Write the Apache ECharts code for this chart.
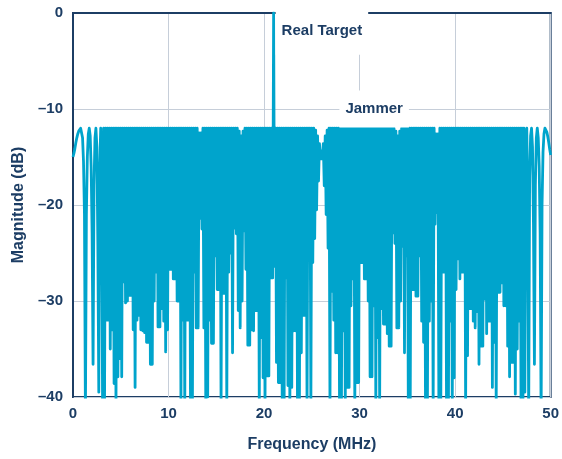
<!DOCTYPE html>
<html>
<head>
<meta charset="utf-8">
<script src="https://cdn.jsdelivr.net/npm/echarts@6/dist/echarts.min.js"></script>
<style>
  html, body { margin: 0; padding: 0; background: #ffffff; }
  #chart { width: 562px; height: 459px; }
</style>
</head>
<body>
<div id="chart"></div>
<script>
// ---- data ----
const xTicks = [0, 10, 20, 30, 40, 50];           // MHz
const yTicks = [0, -10, -20, -30, -40];           // dB
const sampleStepMHz = 0.1;                        // spectrum sample grid

// left band edge, 0.0 .. 3.2 MHz
const leftEdgeDb = [-15, -14.6, -14.1, -13.5, -13, -12.6, -12.3, -12.1, -12, -12.2,
  -13, -15.5, -21, -42, -21, -15, -12.6, -12, -12.8, -16,
  -23, -36.6, -18, -13, -12, -14, -24, -39.5, -16, -12,
  -18, -42, -12];

// dense band: troughs at 3.3, 3.5 ... 47.1 MHz
const troughDb = [
  -41, -32, -32, -35,                       // 3.3-3.9
  -33, -38.6, -41, -37.9, -36,              // 4
  -37.9, -28, -30.2, -30, -29.4,            // 5
  -29.4, -33, -39, -32, -31.5,              // 6
  -33, -33.1, -33.3, -34.3, -34.3,          // 7
  -36.6, -36.6, -30, -27, -32.7,            // 8
  -32.7, -30.8, -32.1, -35.3, -33,          // 9
  -26.7, -26.7, -27.7, -27.7, -30,          // 10
  -30, -41, -32, -41, -32,                  // 11
  -32, -41, -41, -27, -32.8,                // 12
  -32.8, -21.4, -22.5, -32.8, -41,          // 13
  -40, -32, -34.4, -34.4, -25.3,            // 14
  -28.8, -28.8, -41, -29.2, -29.2,          // 15
  -41, -27, -25, -35.4, -22.4,              // 16
  -23, -31, -32.8, -30, -22.7,              // 17
  -26.7, -34.6, -34.6, -33, -33.1,          // 18
  -31, -31, -41, -33.8, -38,                // 19
  -41, -37.8, -37.8, -27.6, -27.6,          // 20
  -26.4, -36.4, -38.5, -38.5, -41,          // 21
  -41, -27.6, -38.8, -41, -39,              // 22
  -33.1, -33.1, -41, -41, -35.4,            // 23
  -31.5, -31.5, -41, -21.8, -41,            // 24
  -26, -23.5, -20.5, -17.5, -15.2,          // 25
  -15.2, -18, -21, -24.5, -41,              // 26
  -29, -32, -35.4, -35.4, -41,              // 27
  -41, -33.1, -41, -39, -39,                // 28
  -30.5, -27.7, -41, -38.5, -38.5,          // 29
  -26, -26, -27.7, -27.7, -30,              // 30
  -37.9, -37.9, -30.5, -41, -33.8,          // 31
  -41, -30.8, -32.4, -32.4, -33.4,          // 32
  -34.7, -34.7, -22.9, -24, -32.8,          // 33
  -32.8, -30, -24.3, -35.4, -25.3,          // 34
  -41, -41, -28.8, -28.8, -29.5,            // 35
  -29.5, -25.3, -32.1, -34.3, -41,          // 36
  -41, -32.1, -30, -41, -22,                // 37
  -20.8, -41, -41, -27, -27,                // 38
  -41, -41, -32.1, -41, -38,                // 39
  -28.8, -25.6, -27.7, -27, -27,            // 40
  -41, -35.7, -30.8, -30.8, -32.1,          // 41
  -32.8, -31.1, -36.6, -34.7, -34.7,        // 42
  -29.8, -33.4, -32.1, -32.1, -39,          // 43
  -34.3, -41, -29.1, -29.1, -28.1,          // 44
  -30.5, -30.5, -34.7, -37.9, -36.4,        // 45
  -36.4, -39.7, -35, -32.1, -41,            // 46
  -41                                       // 47.1
];

// dense band: crests at 3.4, 3.6 ... 47.0 MHz (21.0 MHz = real target)
const crestDb = [
  -12, -12, -12,                            // 3.4-3.8
  -12, -12, -12, -12, -12,                  // 4
  -12, -12, -12, -12, -12,                  // 5
  -12, -12, -12, -12, -12,                  // 6
  -12, -12, -12, -12, -12,                  // 7
  -12, -12, -12, -12, -12,                  // 8
  -12, -12, -12, -12, -12,                  // 9
  -12, -12, -12, -12, -12,                  // 10
  -12, -12, -12, -12, -12,                  // 11
  -12, -12, -12, -12, -12,                  // 12
  -12, -12.5, -12.5, -12, -12,              // 13
  -12, -12, -12, -12, -12,                  // 14
  -12, -12, -12, -12, -12,                  // 15
  -12, -12, -12, -12, -12,                  // 16
  -12, -12, -12.3, -12.8, -12.3,            // 17
  -12, -12, -12, -12, -12,                  // 18
  -12, -12, -12, -12, -12,                  // 19
  -12, -12, -12, -12, -12,                  // 20
  0, -12, -12, -12, -12,                    // 21
  -12, -12, -12, -12, -12,                  // 22
  -12, -12, -12, -12, -12,                  // 23
  -12, -12, -12, -12, -12,                  // 24
  -12, -12, -12.2, -12.8, -13.6,            // 25
  -14.4, -13.6, -12.8, -12.2, -12,          // 26
  -12, -12, -12, -12, -12,                  // 27
  -12, -12, -12, -12, -12,                  // 28
  -12, -12, -12, -12, -12,                  // 29
  -12, -12, -12, -12, -12,                  // 30
  -12, -12, -12, -12, -12,                  // 31
  -12, -12, -12, -12, -12,                  // 32
  -12, -12, -12, -12, -12.3,                // 33
  -12.8, -12.3, -12, -12, -12,              // 34
  -12, -12, -12, -12, -12,                  // 35
  -12, -12, -12, -12, -12,                  // 36
  -12, -12, -12, -12, -12,                  // 37
  -12.6, -12.6, -12, -12, -12,              // 38
  -12, -12, -12, -12, -12,                  // 39
  -12, -12, -12, -12, -12,                  // 40
  -12, -12, -12, -12, -12,                  // 41
  -12, -12, -12, -12, -12,                  // 42
  -12, -12, -12, -12, -12,                  // 43
  -12, -12, -12, -12, -12,                  // 44
  -12, -12, -12, -12, -12,                  // 45
  -12, -12, -12, -12, -12,                  // 46
  -12                                       // 47.0
];

// right band edge, 47.2 .. 50.0 MHz
const rightEdgeDb = [-12, -39.5, -16, -12, -20, -42, -17, -12.8, -12, -14,
  -22, -36.6, -18, -13, -12, -13, -16, -23, -42, -20,
  -14.5, -12.6, -12, -12.1, -12.4, -12.9, -13.5, -14.2, -14.8];

const annotations = [
  { text: 'Real Target', freq: 21, db: -2 },
  { text: 'Jammer', freq: 26, db: -10 }
];

// ---- build the spectrum ----
const magnitudeDb = leftEdgeDb.slice();
for (let k = 0; k < troughDb.length; k++) {
  magnitudeDb.push(troughDb[k]);
  if (k < crestDb.length) magnitudeDb.push(crestDb[k]);
}
rightEdgeDb.forEach(v => magnitudeDb.push(v));
const spectrum = magnitudeDb.map((v, i) => [Math.round(i * sampleStepMHz * 10) / 10, v]);

const navy = '#1c3d64';
const fontFam = '"Liberation Sans", Arial, Helvetica, sans-serif';
const fmtDb = v => (v < 0 ? '\u2013' + Math.abs(v) : String(v));

const chart = echarts.init(document.getElementById('chart'), null, { renderer: 'canvas' });
chart.setOption({
  animation: false,
  backgroundColor: '#ffffff',
  grid: {
    left: 73, right: 9, top: 13, bottom: 62,
    show: true, borderColor: navy, borderWidth: 2, backgroundColor: 'transparent'
  },
  xAxis: {
    type: 'value',
    min: xTicks[0], max: xTicks[xTicks.length - 1], interval: 10,
    name: 'Frequency (MHz)', nameLocation: 'middle', nameGap: 40,
    nameTextStyle: { color: navy, fontSize: 16, fontWeight: 'bold', fontFamily: fontFam },
    axisLine: { show: true, lineStyle: { color: navy, width: 2 } },
    axisTick: { show: false },
    axisLabel: { color: navy, fontSize: 15, fontWeight: 'bold', fontFamily: fontFam, margin: 9 },
    splitLine: { show: true, lineStyle: { color: '#c6ced9', width: 1 } }
  },
  yAxis: {
    type: 'value',
    min: yTicks[yTicks.length - 1], max: yTicks[0], interval: 10,
    name: 'Magnitude (dB)', nameLocation: 'middle', nameGap: 46, nameRotate: 90,
    nameTextStyle: { color: navy, fontSize: 16, fontWeight: 'bold', fontFamily: fontFam },
    axisLine: { show: true, lineStyle: { color: navy, width: 2 } },
    axisTick: { show: false },
    axisLabel: { color: navy, fontSize: 15, fontWeight: 'bold', fontFamily: fontFam, margin: 10,
      formatter: fmtDb },
    splitLine: { show: true, lineStyle: { color: '#c6ced9', width: 1 } }
  },
  series: [{
    type: 'line',
    data: spectrum,
    showSymbol: false,
    symbol: 'none',
    clip: true,
    sampling: null,
    lineStyle: { color: '#00a4cc', width: 2.8, join: 'round' },
    z: 2
  }]
});

// annotation labels anchored to data coordinates
const targetPx = chart.convertToPixel({ gridIndex: 0 }, [annotations[0].freq, annotations[0].db]);
const jammerPx = chart.convertToPixel({ gridIndex: 0 }, [annotations[1].freq, annotations[1].db]);
chart.setOption({
  graphic: [
    {
      type: 'text', z: 100,
      x: targetPx[0] + 2, y: targetPx[1] - 1,
      style: {
        text: annotations[0].text, fill: navy,
        font: 'bold 15px ' + fontFam,
        verticalAlign: 'middle', align: 'left',
        backgroundColor: '#ffffff', padding: [16, 6, 16, 6]
      }
    },
    {
      type: 'text', z: 100,
      x: jammerPx[0] + 18, y: jammerPx[1],
      style: {
        text: annotations[1].text, fill: navy,
        font: 'bold 15px ' + fontFam,
        verticalAlign: 'middle', align: 'left',
        backgroundColor: '#ffffff', padding: [14, 6, 8, 6]
      }
    }
  ]
});
</script>
</body>
</html>
